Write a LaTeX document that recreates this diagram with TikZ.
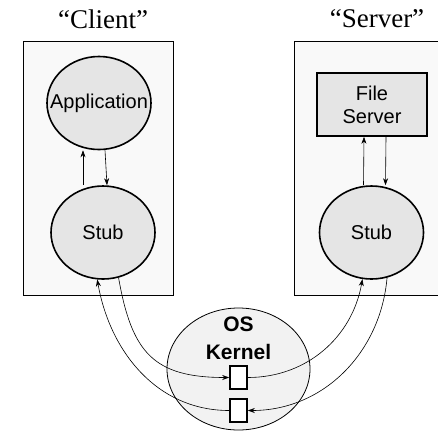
\documentclass[tikz,border=0pt]{standalone}
\usepackage{fontspec}
\setmainfont{Liberation Serif}
\setsansfont{Liberation Sans}
\usetikzlibrary{arrows.meta, positioning, shapes.geometric}

\begin{document}
\begin{tikzpicture}[x=1pt, y=1pt,
  host/.style={draw, line width=0.8pt, fill=gray!5,
               minimum height=254pt, inner sep=0pt},
  proc/.style={draw, ellipse, line width=1.6pt, fill=gray!20, inner sep=0pt,
               minimum width=104pt, minimum height=93pt,
               font=\sffamily\fontsize{20}{24}\selectfont},
  srv/.style={draw, line width=1.6pt, fill=gray!20,
              minimum width=110pt, minimum height=63pt, align=center,
              font=\sffamily\fontsize{20}{23}\selectfont},
  port/.style={draw, line width=1.6pt, fill=white, inner sep=0pt,
               minimum width=17pt, minimum height=23pt},
  arr/.style={-{Stealth[length=7pt, width=5pt]}, line width=0.6pt},
  ttl/.style={font=\fontsize{27}{30}\selectfont},
]
\useasboundingbox (0,0) rectangle (438,-432);
\clip (0,0) rectangle (438,-432);

% Hosts
\node[host, minimum width=150pt] (clientbox) at (98,-168) {};
\node[host, minimum width=146pt] (serverbox) at (367,-168) {};
\node[ttl] (clientlbl) at (103,-19) {“Client”};
\node[ttl] (serverlbl) at (377,-19) {“Server”};

% Client side
\node[proc] (app)   at (99,-103)    {\makebox[0pt]{Application}};
\node[proc] (cstub) at (103,-232.5) {Stub};

% Server side
\node[srv]  (fs)    at (372,-104.5)   {File\\Server};
\node[proc] (sstub) at (371.5,-232.5) {Stub};

% Kernel
\node[draw, ellipse, line width=0.8pt, fill=gray!10,
      minimum width=143pt, minimum height=122pt] (kernel) at (238.5,-369) {};
\node[font=\sffamily\bfseries\fontsize{21}{28}\selectfont, align=center]
      (oslbl) at (238.5,-338) {OS\\Kernel};
\node[port] (port1) at (238.5,-377.5) {};
\node[port] (port2) at (238.5,-410.5) {};

% Local calls
\draw[arr] ([xshift=-20pt]cstub.north) -- ([xshift=-16pt]app.south);
\draw[arr] ([xshift=6pt]app.south) -- ([xshift=4pt]cstub.north);
\draw[arr] ([xshift=-8pt]sstub.north) -- ([xshift=-8pt]fs.south);
\draw[arr] ([xshift=14pt]fs.south) -- ([xshift=14pt]sstub.north);

% Messages
\draw[arr] (cstub.-71) to[out=-80, in=180, looseness=1.3] (port1.west);
\draw[arr] (port2.west) to[out=180, in=-80] (cstub.-97);
\draw[arr] (port1.east) to[out=0, in=-100] (sstub.-101);
\draw[arr] (sstub.-71) to[out=-95, in=0] (port2.east);
\end{tikzpicture}
\end{document}
